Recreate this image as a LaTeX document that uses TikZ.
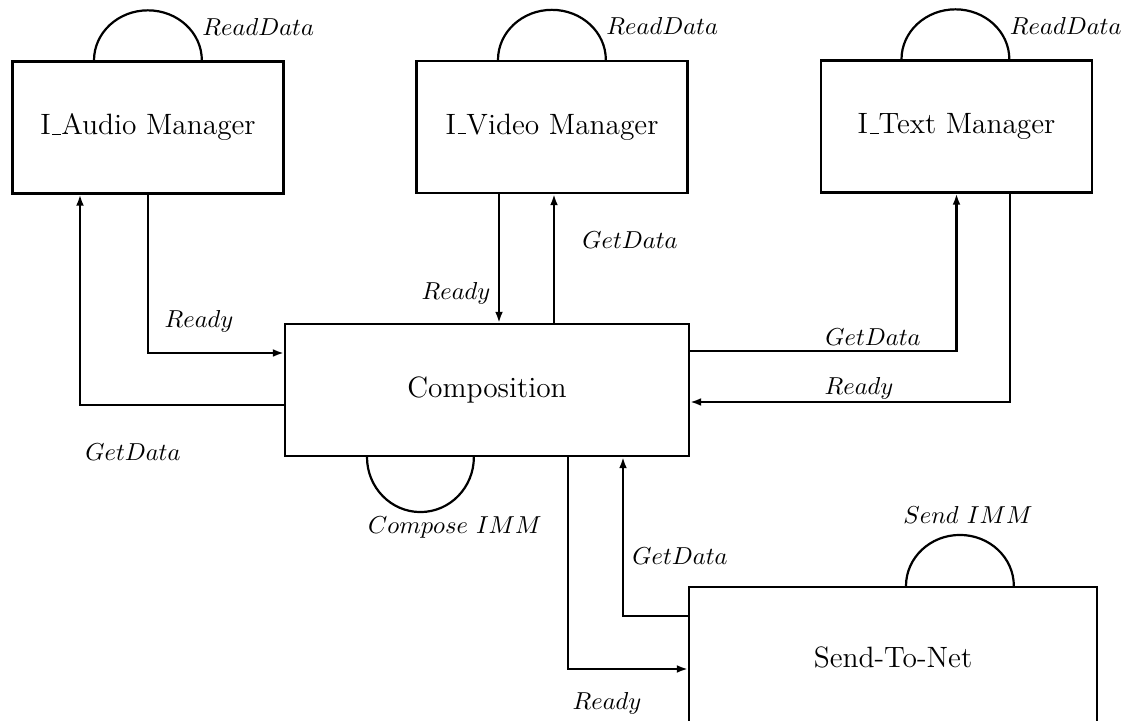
\documentclass[tikz,border=0pt]{standalone}
\usetikzlibrary{arrows.meta,calc}
\newcommand\lowbar{\leavevmode\kern.06em\vbox{\hrule width.3em}}
\begin{document}
\begin{tikzpicture}[x=0.408pt, y=-0.408pt, line width=0.9pt,
  mgr/.style={draw, minimum width=110.6pt, minimum height=53.9pt, font=\large},
  msg/.style={inner sep=1pt},
  arr/.style={-{Latex[length=4.5pt,width=3.2pt]}}]
  \useasboundingbox (0,0) rectangle (1126,721);
  \clip (0,0) rectangle (1126,721);
  \node[mgr] (audio) at (148,127.5) {I\lowbar Audio Manager};
  \node[mgr] (video) at (552,127) {I\lowbar Video Manager};
  \node[mgr] (text) at (956.5,126.5) {I\lowbar Text Manager};
  \node[mgr, minimum width=164.8pt] (comp) at (487,390) {Composition};
  \node[mgr, minimum width=166.5pt, minimum height=57.1pt] (send) at (893,657) {Send-To-Net};
  \draw ($(audio.north)+(-54,0)$) arc[start angle=180, end angle=0, x radius=22pt, y radius=20.4pt] node[msg, anchor=base west, xshift=-1.2pt, yshift=10.2pt] {$ReadData$};
  \draw ($(video.north)+(-54,0)$) arc[start angle=180, end angle=0, x radius=22pt, y radius=20.4pt] node[msg, anchor=base west, xshift=-1.2pt, yshift=10.2pt] {$ReadData$};
  \draw ($(text.north)+(-55,0)$) arc[start angle=180, end angle=0, x radius=22pt, y radius=20.4pt] node[msg, anchor=base west, xshift=-1.2pt, yshift=10.2pt] {$ReadData$};
  \draw ($(comp.south)+(-120,0)$) arc[start angle=180, end angle=360, x radius=21.8pt, y radius=22.4pt];
  \draw ($(send.north)+(13,0)$) arc[start angle=180, end angle=0, x radius=22pt, y radius=20.8pt];
  \draw[arr] (audio.south) |- (comp.west |- 0,353);
  \draw[arr] (comp.west |- 0,405) -| (80,0 |- audio.south);
  \draw[arr] (499,0 |- video.south) -- (499,0 |- comp.north);
  \draw[arr] (554,0 |- comp.north) -- (554,0 |- video.south);
  \draw[arr] (comp.east |- 0,351) -| (text.south);
  \draw[arr] (1010,0 |- text.south) |- (comp.east |- 0,402);
  \draw[arr] (568,0 |- comp.south) |- (send.west |- 0,669);
  \draw[arr] (send.west |- 0,616) -| (623,0 |- comp.south);
  \node[msg] (lready1) at (199,321) {$Ready$};
  \node[msg] (lget1) at (133,452) {$GetData$};
  \node[msg] (lready2) at (456,293) {$Ready$};
  \node[msg] (lget2) at (630,240) {$GetData$};
  \node[msg] (lget3) at (873,337) {$GetData$};
  \node[msg] (lready3) at (859,388) {$Ready$};
  \node[msg] (lcompose) at (455,528) {$Compose\ IMM$};
  \node[msg] (lsend) at (968,515) {$Send\ IMM$};
  \node[msg] (lget4) at (680,556) {$GetData$};
  \node[msg] (lready4) at (607,703) {$Ready$};
\end{tikzpicture}
\end{document}
